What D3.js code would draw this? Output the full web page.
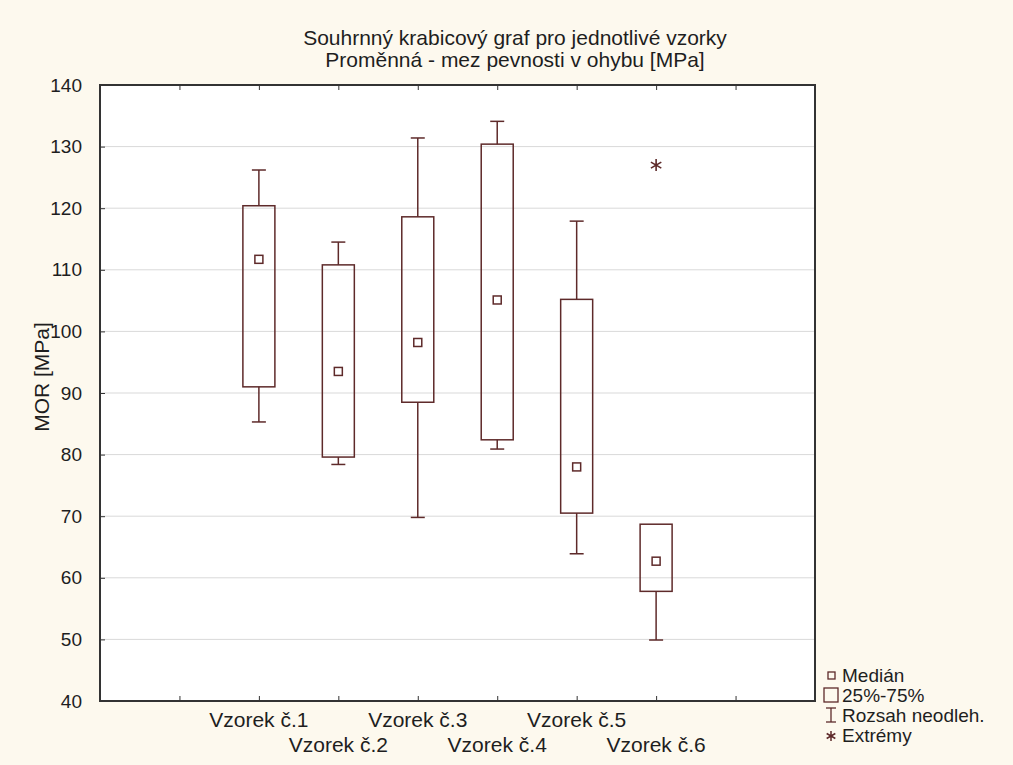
<!DOCTYPE html>
<html><head><meta charset="utf-8">
<script src="https://cdn.jsdelivr.net/npm/d3@7"></script>
<style>body{margin:0;background:#fdf9ee;}svg{display:block;}text{font-family:"Liberation Sans",Arial,sans-serif;}</style>
</head><body>
<script>
const categories = ["Vzorek č.1","Vzorek č.2","Vzorek č.3","Vzorek č.4","Vzorek č.5","Vzorek č.6"];
const whiskerLow  = [85.3, 78.4, 69.8, 80.9, 63.9, 49.9];
const q1          = [91.0, 79.6, 88.5, 82.4, 70.5, 57.8];
const median      = [111.7, 93.5, 98.2, 105.1, 78.0, 62.7];
const q3          = [120.4, 110.8, 118.6, 130.4, 105.2, 68.7];
const whiskerHigh = [126.2, 114.5, 131.4, 134.1, 117.9, 68.7];
const extremes    = [null, null, null, null, null, 127.0];
const yTicks = [40,50,60,70,80,90,100,110,120,130,140];
const titleLines = ["Souhrnný krabicový graf pro jednotlivé vzorky","Proměnná - mez pevnosti v ohybu [MPa]"];
const yLabel = "MOR [MPa]";
const legendItems = ["Medián","25%-75%","Rozsah neodleh.","Extrémy"];

const W=1013,H=765;
const L=100,R=815,T=85,B=701;
const col="#5e2a2a";
const txt="#1e1e1e";
const svg=d3.select("body").append("svg").attr("width",W).attr("height",H);
svg.append("rect").attr("width",W).attr("height",H).attr("fill","#fdf9ee");
svg.append("rect").attr("x",L).attr("y",T).attr("width",R-L).attr("height",B-T).attr("fill","#ffffff");

const x=d3.scaleLinear().domain([0,categories.length+3]).range([L,R]);
const y=d3.scaleLinear().domain([40,140]).range([B,T]);
const pos=i=>x(i+2);
const xTickVals=d3.range(1,categories.length+3);

function asterisk(sel,cx,cy,r,sw){
  const p=d3.path();
  [90,30,150].forEach(a=>{
    const t=a*Math.PI/180;
    p.moveTo(cx+r*Math.cos(t),cy-r*Math.sin(t));
    p.lineTo(cx-r*Math.cos(t),cy+r*Math.sin(t));
  });
  sel.append("path").attr("d",p.toString()).attr("stroke",col).attr("stroke-width",sw).attr("fill","none");
}

// gridlines
svg.append("g").selectAll("line").data(yTicks.slice(1,-1)).join("line")
  .attr("x1",L).attr("x2",R).attr("y1",d=>y(d)).attr("y2",d=>y(d))
  .attr("stroke","#d9d9d9").attr("stroke-width",1);

// y axis
const ya=svg.append("g").attr("transform",`translate(${L},0)`)
  .call(d3.axisLeft(y).tickValues(yTicks).tickSize(-5).tickPadding(18));
ya.select(".domain").remove();
ya.selectAll("line").attr("stroke","#333");
ya.selectAll("text").attr("font-size",19).attr("fill",txt).attr("font-family","Liberation Sans, Arial, sans-serif");

// top and bottom ticks
const xt=svg.append("g").attr("transform",`translate(0,${T})`).call(d3.axisBottom(x).tickValues(xTickVals).tickSize(5).tickFormat(""));
xt.select(".domain").remove(); xt.selectAll("line").attr("stroke","#333");
const xb=svg.append("g").attr("transform",`translate(0,${B})`).call(d3.axisTop(x).tickValues(xTickVals).tickSize(5).tickFormat(""));
xb.select(".domain").remove(); xb.selectAll("line").attr("stroke","#333");

// category labels
svg.append("g").selectAll("text").data(categories).join("text")
  .attr("x",(d,i)=>pos(i)).attr("y",(d,i)=>i%2===0?727:752)
  .attr("text-anchor","middle").attr("font-size",21).attr("fill",txt).text(d=>d);

const bw=32, cw=14, ms=8;
const g=svg.append("g");
categories.forEach((c,i)=>{
  const cx=pos(i);
  if(whiskerHigh[i]>q3[i]){
    g.append("line").attr("x1",cx).attr("x2",cx).attr("y1",y(q3[i])).attr("y2",y(whiskerHigh[i])).attr("stroke",col).attr("stroke-width",1.5);
    g.append("line").attr("x1",cx-cw/2).attr("x2",cx+cw/2).attr("y1",y(whiskerHigh[i])).attr("y2",y(whiskerHigh[i])).attr("stroke",col).attr("stroke-width",1.5);
  }
  if(whiskerLow[i]<q1[i]){
    g.append("line").attr("x1",cx).attr("x2",cx).attr("y1",y(q1[i])).attr("y2",y(whiskerLow[i])).attr("stroke",col).attr("stroke-width",1.5);
    g.append("line").attr("x1",cx-cw/2).attr("x2",cx+cw/2).attr("y1",y(whiskerLow[i])).attr("y2",y(whiskerLow[i])).attr("stroke",col).attr("stroke-width",1.5);
  }
  g.append("rect").attr("x",cx-bw/2).attr("y",y(q3[i])).attr("width",bw).attr("height",y(q1[i])-y(q3[i]))
    .attr("fill","none").attr("stroke",col).attr("stroke-width",1.5);
  g.append("rect").attr("x",cx-ms/2).attr("y",y(median[i])-ms/2).attr("width",ms).attr("height",ms)
    .attr("fill","none").attr("stroke",col).attr("stroke-width",1.5);
  if(extremes[i]!=null) asterisk(g,cx,y(extremes[i]),6,1.6);
});

// frame
svg.append("rect").attr("x",L).attr("y",T).attr("width",R-L).attr("height",B-T)
  .attr("fill","none").attr("stroke","#333").attr("stroke-width",2);

// title
svg.append("g").selectAll("text").data(titleLines).join("text")
  .attr("x",515).attr("y",(d,i)=>45+i*22).attr("text-anchor","middle")
  .attr("font-size",21).attr("fill",txt).text(d=>d);

// y label
svg.append("text").attr("transform",`translate(49,377) rotate(-90)`)
  .attr("text-anchor","middle").attr("font-size",21).attr("fill",txt).text(yLabel);

// legend
const lx=826, ly=[675,695,715,735];
const lg=svg.append("g");
lg.selectAll("text").data(legendItems).join("text")
  .attr("x",lx+16).attr("y",(d,i)=>ly[i]+7).attr("font-size",19).attr("fill",txt).text(d=>d);
lg.append("rect").attr("x",lx+2).attr("y",ly[0]-3).attr("width",7).attr("height",7).attr("fill","none").attr("stroke",col).attr("stroke-width",1.3);
lg.append("rect").attr("x",lx-2).attr("y",ly[1]-7).attr("width",14).attr("height",14).attr("fill","none").attr("stroke",col).attr("stroke-width",1.3);
lg.append("line").attr("x1",lx+5).attr("x2",lx+5).attr("y1",ly[2]-7).attr("y2",ly[2]+7).attr("stroke",col).attr("stroke-width",1.3);
lg.append("line").attr("x1",lx).attr("x2",lx+10).attr("y1",ly[2]-7).attr("y2",ly[2]-7).attr("stroke",col).attr("stroke-width",1.3);
lg.append("line").attr("x1",lx).attr("x2",lx+10).attr("y1",ly[2]+7).attr("y2",ly[2]+7).attr("stroke",col).attr("stroke-width",1.3);
asterisk(lg,lx+5,ly[3]+1,5,1.5);
</script>
</body></html>
